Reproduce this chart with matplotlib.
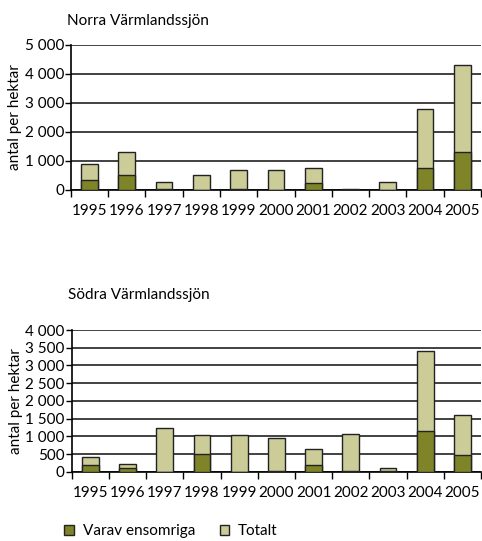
import numpy as np
import matplotlib.pyplot as plt
from matplotlib.ticker import FuncFormatter, MultipleLocator

plt.rcParams['font.family'] = ['Lato', 'DejaVu Sans']

years = ["1995", "1996", "1997", "1998", "1999", "2000", "2001", "2002", "2003", "2004", "2005"]

# Norra Värmlandssjön
norra_totalt = [880, 1300, 280, 500, 700, 700, 740, 35, 280, 2800, 4300]
norra_ensomriga = [350, 500, 30, 0, 30, 0, 250, 10, 0, 740, 1300]

# Södra Värmlandssjön
sodra_totalt = [420, 230, 1230, 1030, 1030, 940, 650, 1060, 110, 3400, 1610]
sodra_ensomriga = [180, 110, 0, 500, 0, 30, 180, 30, 10, 1140, 470]

col_ens = '#7f8428'
col_tot = '#cccc99'
edge = '#222222'
fs = 11

def fmt(v, pos):
    return "{:,}".format(int(v)).replace(",", " ")

def rita(ax, totalt, ensomriga, ymax, step, titel, tpad):
    x = np.arange(len(years))
    ax.bar(x, totalt, width=0.45, color=col_tot, edgecolor=edge, linewidth=1, zorder=3, label='Totalt')
    ax.bar(x, ensomriga, width=0.45, color=col_ens, edgecolor=edge, linewidth=1, zorder=4, label='Varav ensomriga')
    ax.set_xlim(-0.5, len(years) - 0.5)
    ax.set_ylim(0, ymax)
    ax.yaxis.set_major_locator(MultipleLocator(step))
    ax.yaxis.set_major_formatter(FuncFormatter(fmt))
    ax.set_xticks(x)
    ax.set_xticklabels(years)
    ax.set_xticks(np.arange(-0.5, len(years), 1), minor=True)
    ax.tick_params(axis='x', which='major', length=0, pad=10, labelsize=fs)
    ax.tick_params(axis='x', which='minor', length=5, width=1, direction='out')
    ax.tick_params(axis='y', length=4, width=1, pad=1, labelsize=fs)
    ax.grid(axis='y', color='#333333', linewidth=1.3, zorder=0)
    ax.spines['top'].set_visible(False)
    ax.spines['right'].set_visible(False)
    ax.spines['left'].set_linewidth(1.2)
    ax.spines['bottom'].set_linewidth(1.2)
    ax.set_ylabel('antal per hektar', fontsize=fs, labelpad=2)
    ax.set_title(titel, loc='left', fontsize=fs, x=-0.01, pad=tpad)

fig = plt.figure(figsize=(4.82, 5.41), dpi=100)
ax1 = fig.add_axes([0.147, 0.649, 0.851, 0.268])
ax2 = fig.add_axes([0.149, 0.128, 0.849, 0.262])

rita(ax1, norra_totalt, norra_ensomriga, 5000, 1000, 'Norra Värmlandssjön', 14)
rita(ax2, sodra_totalt, sodra_ensomriga, 4000, 500, 'Södra Värmlandssjön', 22)

h, l = ax1.get_legend_handles_labels()
fig.legend([h[1], h[0]], [l[1], l[0]], loc='lower left', bbox_to_anchor=(0.105, -0.02),
           ncol=2, frameon=False, fontsize=fs, handlelength=0.6, handleheight=0.6,
           columnspacing=1.6, handletextpad=0.6)

fig.savefig('out.png', dpi=100)
